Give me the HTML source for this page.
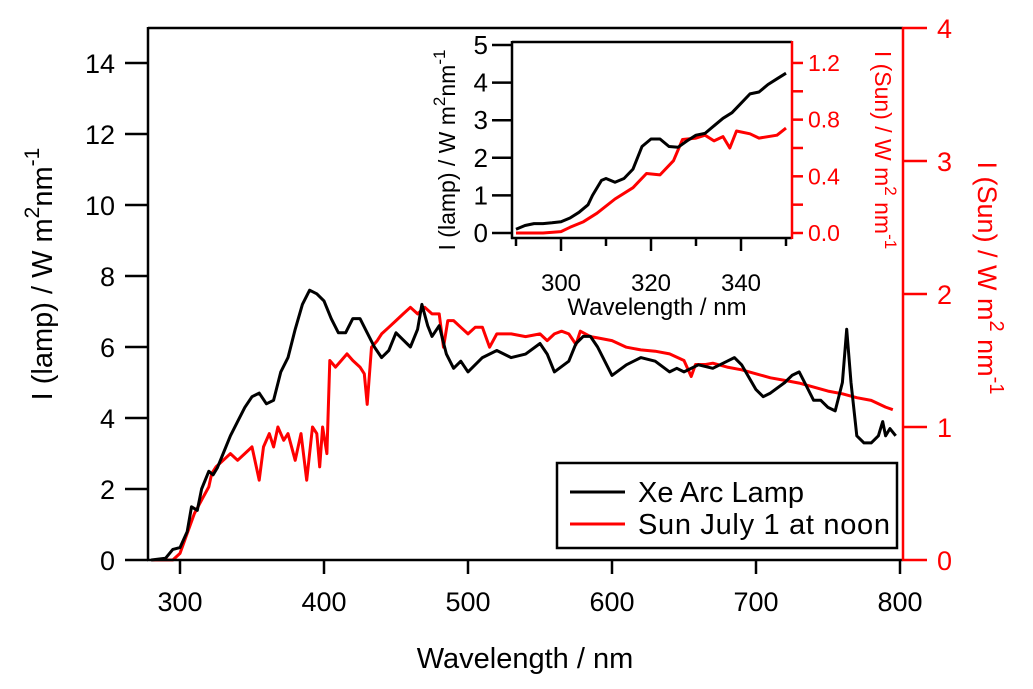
<!DOCTYPE html>
<html><head><meta charset="utf-8">
<style>
html,body{margin:0;padding:0;background:#fff;}
svg{display:block;font-family:"Liberation Sans",Arial,sans-serif;}
</style></head>
<body>
<svg id="chart" width="1033" height="689" viewBox="0 0 1033 689" xmlns="http://www.w3.org/2000/svg">
  <rect x="0" y="0" width="1033" height="689" fill="#fff"/>
  <g id="main"></g>
  <g id="inset"></g>
</svg>
<script>
// Main chart data
const lampNm = [280,290,295,300,305,308,312,315,320,323,326,330,335,340,345,350,355,360,365,370,375,380,385,390,395,400,405,410,415,420,425,430,435,440,445,450,455,460,465,468,472,475,480,485,490,495,500,510,520,530,540,550,555,560,570,575,580,585,590,600,610,620,630,640,645,650,660,670,680,685,690,700,705,710,720,725,730,735,740,745,750,755,760,763,766,770,775,780,785,788,790,793,797];
const lampVal = [0,0.05,0.3,0.35,0.8,1.5,1.4,2.0,2.5,2.4,2.6,3.0,3.5,3.9,4.3,4.6,4.7,4.4,4.5,5.3,5.7,6.5,7.2,7.6,7.5,7.3,6.8,6.4,6.4,6.8,6.8,6.4,6.0,5.7,5.9,6.4,6.2,6.0,6.5,7.2,6.6,6.3,6.6,5.8,5.4,5.6,5.3,5.7,5.9,5.7,5.8,6.1,5.8,5.3,5.6,6.1,6.3,6.3,6.0,5.2,5.5,5.7,5.6,5.3,5.4,5.3,5.5,5.4,5.6,5.7,5.5,4.8,4.6,4.7,5.0,5.2,5.3,4.9,4.5,4.5,4.3,4.2,5.0,6.5,5.0,3.5,3.3,3.3,3.5,3.9,3.5,3.7,3.5];
const sunNm = [280,295,300,305,310,315,320,322,325,330,335,340,345,350,355,358,362,365,368,372,375,380,384,388,392,395,397,399,402,404,408,412,416,420,425,428,430,433,437,440,445,450,455,460,465,470,475,480,483,486,490,495,500,505,510,515,520,525,530,540,550,555,560,565,570,575,578,585,590,600,610,620,630,640,650,655,658,665,670,680,690,700,710,720,730,740,750,760,770,780,790,795];
const sunVal = [0,0,0.05,0.2,0.35,0.45,0.55,0.65,0.7,0.75,0.8,0.75,0.8,0.85,0.6,0.85,0.95,0.85,1.0,0.9,0.95,0.75,0.95,0.6,1.0,0.95,0.7,1.0,0.8,1.5,1.45,1.5,1.55,1.5,1.45,1.4,1.17,1.6,1.65,1.7,1.75,1.8,1.85,1.9,1.85,1.9,1.85,1.85,1.6,1.8,1.8,1.75,1.7,1.75,1.75,1.6,1.7,1.7,1.7,1.68,1.7,1.65,1.7,1.72,1.7,1.62,1.72,1.68,1.67,1.65,1.6,1.58,1.57,1.55,1.5,1.38,1.47,1.47,1.48,1.45,1.43,1.4,1.37,1.35,1.33,1.3,1.27,1.25,1.22,1.2,1.15,1.13];
const mainXTicks = [300,400,500,600,700,800];
const mainYLTicks = [0,2,4,6,8,10,12,14];
const mainYRTicks = [0,1,2,3,4];
// Inset data
const inNm = [290,292,294,296,298,300,302,304,306,307,309,310,312,314,316,318,320,322,324,326,328,330,332,334,336,338,340,342,344,346,348,350];
const inLamp = [0.1,0.2,0.25,0.25,0.27,0.3,0.4,0.55,0.75,1.0,1.4,1.45,1.35,1.45,1.7,2.3,2.5,2.5,2.3,2.28,2.45,2.6,2.65,2.85,3.05,3.2,3.45,3.7,3.75,3.95,4.1,4.25];
const inSunNm = [290,296,300,302,305,308,312,316,319,322,325,327,330,332,334,336,337.5,339,342,344,348,350];
const inSun = [0,0,0.01,0.04,0.08,0.14,0.24,0.32,0.42,0.41,0.51,0.66,0.67,0.69,0.65,0.68,0.6,0.72,0.70,0.67,0.69,0.74];
const inXTicks = [300,320,340];
const inXMinor = [290,310,330,350];
const inYLTicks = [0,1,2,3,4,5];
const inYRTicks = [0,0.2,0.4,0.6,0.8,1.0,1.2];
const inYRLabels = [0,0.4,0.8,1.2];

const NS = "http://www.w3.org/2000/svg";
function mk(parent, tag, attrs, text){
  const e = document.createElementNS(NS, tag);
  for (const k in attrs) e.setAttribute(k, attrs[k]);
  if (text !== undefined) e.textContent = text;
  parent.appendChild(e);
  return e;
}
const mx = nm => 180 + (nm - 300) * 1.44;
const myL = v => 560 - v * 35.5;
const myR = v => 560 - v * 133;
const ix = nm => 516 + (nm - 290) * 4.5;
const iyL = v => 233 - v * 37.6;
const iyR = v => 233 - v * 141.7;

const M = document.getElementById('main');
const I = document.getElementById('inset');

function polyline(parent, xs, ys, fx, fy, color, name){
  const pts = xs.map((x,i)=>fx(x).toFixed(1)+','+fy(ys[i]).toFixed(1)).join(' ');
  const p = mk(parent,'polyline',{points:pts,fill:'none',stroke:color,'stroke-width':3,'stroke-linejoin':'round'});
  
  
  return p;
}

// ----- main -----
polyline(M, sunNm, sunVal, mx, myR, '#ff0000', 'sun-series-line');
polyline(M, lampNm, lampVal, mx, myL, '#000', 'lamp-series-line');

let a = mk(M,'line',{x1:148,y1:28,x2:903,y2:28,stroke:'#000','stroke-width':2.5});
 
a = mk(M,'line',{x1:148,y1:27,x2:148,y2:561,stroke:'#000','stroke-width':2.5});
 
a = mk(M,'line',{x1:147,y1:560,x2:903,y2:560,stroke:'#000','stroke-width':2.5});
 
a = mk(M,'line',{x1:903,y1:27,x2:903,y2:561,stroke:'#ff0000','stroke-width':2.5});
 

mainXTicks.forEach(t=>{
  mk(M,'line',{x1:mx(t),y1:560,x2:mx(t),y2:574,stroke:'#000','stroke-width':2.5});
  const l = mk(M,'text',{x:mx(t),y:611,'font-size':27,'text-anchor':'middle',fill:'#000'},String(t));
   
});
mainYLTicks.forEach(t=>{
  mk(M,'line',{x1:125,y1:myL(t),x2:148,y2:myL(t),stroke:'#000','stroke-width':2.5});
  const l = mk(M,'text',{x:115,y:myL(t)+10,'font-size':27,'text-anchor':'end',fill:'#000'},String(t));
   
});
mainYRTicks.forEach(t=>{
  mk(M,'line',{x1:903,y1:myR(t),x2:927,y2:myR(t),stroke:'#ff0000','stroke-width':2.5});
  const l = mk(M,'text',{x:937,y:myR(t)+10,'font-size':27,'text-anchor':'start',fill:'#ff0000'},String(t));
   
});

a = mk(M,'text',{x:525,y:668,'font-size':29,'text-anchor':'middle',fill:'#000'},'Wavelength / nm');
 
a = mk(M,'text',{transform:'translate(52,274) rotate(-90)','font-size':29,'text-anchor':'middle',fill:'#000'});
a.innerHTML = 'I (lamp) / W m<tspan dy="-13" font-size="21">2</tspan><tspan dy="13">nm</tspan><tspan dy="-13" font-size="21">-1</tspan>';
 
a = mk(M,'text',{transform:'translate(978,278) rotate(90)','font-size':27,'text-anchor':'middle',fill:'#ff0000'});
a.innerHTML = 'I (Sun) / W m<tspan dy="-12" font-size="20">2</tspan><tspan dy="12"> nm</tspan><tspan dy="-12" font-size="20">-1</tspan>';
 

// legend
const lg = mk(M,'g',{});
 
mk(lg,'rect',{x:557,y:463,width:340,height:85,fill:'#fff',stroke:'#000','stroke-width':2.5});
a = mk(lg,'line',{x1:570,y1:492,x2:625,y2:492,stroke:'#000','stroke-width':3});
 
a = mk(lg,'text',{x:638,y:502,'font-size':29,fill:'#000'},'Xe Arc Lamp');
 
a = mk(lg,'line',{x1:570,y1:524,x2:625,y2:524,stroke:'#ff0000','stroke-width':3});
 
a = mk(lg,'text',{x:638,y:534,'font-size':29,fill:'#000','textLength':252},'Sun July 1 at noon');
 

// ----- inset -----
polyline(I, inSunNm, inSun, ix, iyR, '#ff0000', 'inset-sun-line');
polyline(I, inNm, inLamp, ix, iyL, '#000', 'inset-lamp-line');
a = mk(I,'line',{x1:512,y1:42,x2:792,y2:42,stroke:'#000','stroke-width':2.5});
 
a = mk(I,'line',{x1:512,y1:41,x2:512,y2:239,stroke:'#000','stroke-width':2.5});
 
a = mk(I,'line',{x1:511,y1:238,x2:792,y2:238,stroke:'#000','stroke-width':2.5});
 
a = mk(I,'line',{x1:792,y1:41,x2:792,y2:239,stroke:'#ff0000','stroke-width':2.5});
 
inXTicks.forEach(t=>{
  mk(I,'line',{x1:ix(t),y1:238,x2:ix(t),y2:251,stroke:'#000','stroke-width':2.5});
  const l = mk(I,'text',{x:ix(t),y:291,'font-size':24,'text-anchor':'middle',fill:'#000'},String(t));
   
});
inXMinor.forEach(t=>{
  mk(I,'line',{x1:ix(t),y1:238,x2:ix(t),y2:246,stroke:'#000','stroke-width':2.5});
});
inYLTicks.forEach(t=>{
  mk(I,'line',{x1:492,y1:iyL(t),x2:512,y2:iyL(t),stroke:'#000','stroke-width':2.5});
  const l = mk(I,'text',{x:488,y:iyL(t)+9,'font-size':26,'text-anchor':'end',fill:'#000'},String(t));
   
});
inYRTicks.forEach(t=>{
  mk(I,'line',{x1:792,y1:iyR(t),x2:803,y2:iyR(t),stroke:'#ff0000','stroke-width':2.5});
});
inYRLabels.forEach(t=>{
  const l = mk(I,'text',{x:808,y:iyR(t)+8,'font-size':23,'text-anchor':'start',fill:'#ff0000'},t.toFixed(1));
   
});
a = mk(I,'text',{x:657,y:315,'font-size':24,'text-anchor':'middle',fill:'#000'},'Wavelength / nm');
 
a = mk(I,'text',{transform:'translate(455,150) rotate(-90)','font-size':23,'text-anchor':'middle',fill:'#000'});
a.innerHTML = 'I (lamp) / W m<tspan dy="-10" font-size="17">2</tspan><tspan dy="10">nm</tspan><tspan dy="-10" font-size="17">-1</tspan>';
 
a = mk(I,'text',{transform:'translate(875,150) rotate(90)','font-size':23,'text-anchor':'middle',fill:'#ff0000'});
a.innerHTML = 'I (Sun) / W m<tspan dy="-10" font-size="17">2</tspan><tspan dy="10"> nm</tspan><tspan dy="-10" font-size="17">-1</tspan>';
 
</script>
</body></html>
